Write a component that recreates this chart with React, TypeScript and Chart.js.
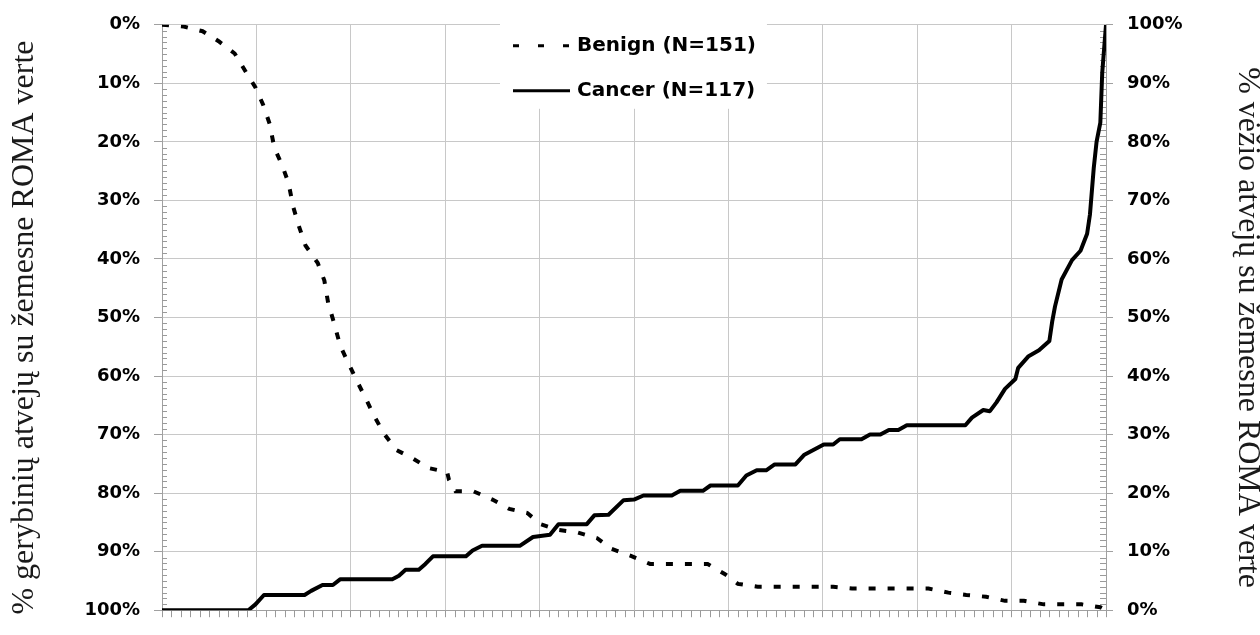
import React, { useEffect, useRef } from 'react';
import { Chart, registerables } from 'chart.js';

Chart.register(...registerables);

// Benign: cumulative % (left axis, reversed 0% at top)
const benignX = [0, 2.3, 4.3, 6.0, 7.7, 8.9, 9.9, 10.7, 11.4, 11.9, 12.7, 13.4, 13.9, 14.5, 15.2, 16.5, 17.2, 17.6, 18.2, 18.9, 19.8, 20.7, 21.6, 22.5, 23.5, 24.8, 26.6, 28.2, 30.2, 30.4, 31.1, 33.0, 35.0, 36.8, 38.7, 40.1, 42.0, 44.0, 46.1, 47.6, 49.8, 51.7, 57.8, 59.6, 61.0, 63.1, 67.1, 71.1, 73.1, 81.2, 83.3, 85.2, 87.3, 89.3, 91.3, 93.4, 97.4, 99.4, 100];
const benignY = [0, 0.3, 1.1, 2.8, 4.9, 8.1, 10.7, 13.6, 16.9, 21.0, 23.9, 27.0, 31.1, 34.4, 37.7, 40.7, 43.7, 47.5, 50.8, 54.9, 58.0, 61.0, 63.9, 66.9, 69.8, 72.6, 74.1, 75.7, 76.4, 77.7, 79.7, 79.7, 81.1, 82.7, 83.4, 85.3, 86.3, 86.7, 87.7, 89.5, 90.8, 92.1, 92.1, 93.8, 95.5, 96.0, 96.0, 96.0, 96.3, 96.3, 97.0, 97.4, 97.7, 98.4, 98.4, 99.0, 99.0, 99.5, 100];

// Cancer: cumulative % (right axis)
const cancerX = [0, 9.15, 9.9, 10.8, 15.1, 15.8, 17.0, 18.1, 18.9, 24.4, 25.1, 25.8, 27.2, 27.9, 28.7, 32.2, 32.9, 33.9, 37.9, 39.3, 41.1, 42.0, 45.0, 45.8, 47.3, 48.9, 50.0, 51.0, 54.0, 54.9, 57.3, 58.1, 61.0, 61.9, 63.0, 64.0, 64.9, 67.1, 68.0, 69.4, 70.1, 71.1, 71.8, 74.1, 75.0, 76.1, 77.0, 78.0, 78.9, 85.1, 85.8, 87.0, 87.7, 88.4, 89.3, 90.4, 90.7, 91.8, 92.9, 94.0, 94.3, 94.6, 95.3, 96.4, 97.3, 98.0, 98.3, 98.7, 99.0, 99.4, 99.6, 100];
const cancerY = [0, 0, 1.0, 2.6, 2.6, 3.3, 4.3, 4.3, 5.3, 5.3, 5.9, 6.9, 6.9, 7.9, 9.2, 9.2, 10.2, 11.0, 11.0, 12.5, 12.9, 14.7, 14.7, 16.2, 16.3, 18.8, 18.9, 19.6, 19.6, 20.4, 20.4, 21.3, 21.3, 23.0, 23.9, 23.9, 24.9, 24.9, 26.5, 27.7, 28.3, 28.3, 29.2, 29.2, 30.0, 30.0, 30.8, 30.8, 31.6, 31.6, 32.9, 34.2, 34.0, 35.5, 37.8, 39.5, 41.4, 43.4, 44.4, 46.0, 49.3, 51.9, 56.5, 59.8, 61.4, 64.3, 67.6, 75.5, 80.0, 83.3, 91.8, 100];

const benignLabel = 'Benign (N=151)';
const cancerLabel = 'Cancer (N=117)';
const leftTitle = '% gerybinių atvejų su žemesne ROMA verte';
const rightTitle = '% vėžio atvejų su žemesne ROMA verte';
const axisMin = 0;
const axisMax = 100;
const majorStep = 10;
const minorStep = 1;

const GRID = '#c8c8c8';
const AXIS = '#a0a0a0';
const MINOR = '#9a9a9a';
const TICK_FONT = { family: "'DejaVu Sans', sans-serif", size: 18, weight: 'bold' as const };
const TITLE_FONT = "32px 'Liberation Serif', serif";

const minorTicksPlugin = {
  id: 'minorTicks',
  beforeDatasetsDraw(chart: any) {
    const { ctx, chartArea, scales } = chart;
    ctx.save();
    ctx.strokeStyle = MINOR;
    ctx.lineWidth = 1;
    ctx.beginPath();
    for (let v = axisMin; v <= axisMax; v += minorStep) {
      if (v % majorStep === 0) continue;
      const yl = Math.round(scales.y.getPixelForValue(v)) + 0.5;
      ctx.moveTo(chartArea.left, yl);
      ctx.lineTo(chartArea.left + 5, yl);
      const yr = Math.round(scales.y1.getPixelForValue(v)) + 0.5;
      ctx.moveTo(chartArea.right - 6, yr);
      ctx.lineTo(chartArea.right, yr);
      const xb = Math.round(scales.x.getPixelForValue(v)) + 0.5;
      ctx.moveTo(xb, chartArea.bottom);
      ctx.lineTo(xb, chartArea.bottom + 7);
    }
    ctx.stroke();
    ctx.restore();
  },
};

const axisTitlesPlugin = {
  id: 'axisTitles',
  afterDraw(chart: any) {
    const { ctx, chartArea, width } = chart;
    const cy = (chartArea.top + chartArea.bottom) / 2 + 10;
    ctx.save();
    ctx.font = TITLE_FONT;
    ctx.fillStyle = '#1a1a1a';
    ctx.textAlign = 'center';
    ctx.textBaseline = 'middle';
    ctx.save();
    ctx.translate(25, cy);
    ctx.rotate(-Math.PI / 2);
    ctx.fillText(leftTitle, 0, 0);
    ctx.restore();
    ctx.save();
    ctx.translate(width - 13, cy);
    ctx.rotate(Math.PI / 2);
    ctx.fillText(rightTitle, 0, 0);
    ctx.restore();
    ctx.restore();
  },
};

const legendDashes = [[6, 19], []];

const boxLegendPlugin = {
  id: 'boxLegend',
  afterDraw(chart: any) {
    const { ctx, chartArea } = chart;
    const ds = chart.data.datasets;
    ctx.save();
    ctx.font = "bold 20px 'DejaVu Sans', sans-serif";
    const sampleLen = 57;
    const gap = 7;
    const maxW = Math.max(...ds.map((d: any) => ctx.measureText(d.label).width));
    const total = sampleLen + gap + maxW;
    const cx = (chartArea.left + chartArea.right) / 2;
    const x0 = Math.round(cx - total / 2);
    const rows = [chartArea.top + 21, chartArea.top + 66];
    ctx.fillStyle = '#ffffff';
    ctx.fillRect(x0 - 13, chartArea.top - 19, total + 24, 103);
    ds.forEach((d: any, i: number) => {
      ctx.beginPath();
      ctx.setLineDash(legendDashes[i] || []);
      ctx.lineWidth = 3;
      ctx.lineCap = 'butt';
      ctx.strokeStyle = d.borderColor;
      ctx.moveTo(x0, rows[i]);
      ctx.lineTo(x0 + sampleLen, rows[i]);
      ctx.stroke();
      ctx.setLineDash([]);
      ctx.fillStyle = '#000';
      ctx.textAlign = 'left';
      ctx.textBaseline = 'middle';
      ctx.fillText(d.label, x0 + sampleLen + gap, rows[i]);
    });
    ctx.restore();
  },
};

export default function App() {
  const ref = useRef<HTMLCanvasElement | null>(null);

  useEffect(() => {
    if (!ref.current) return;
    const benign = benignX.map((x, i) => ({ x, y: benignY[i] }));
    const cancer = cancerX.map((x, i) => ({ x, y: cancerY[i] }));
    const chart = new Chart(ref.current, {
      type: 'line',
      data: {
        datasets: [
          {
            label: benignLabel,
            data: benign,
            yAxisID: 'y',
            borderColor: '#000',
            borderWidth: 4,
            borderDash: [7, 12],
            borderCapStyle: 'butt',
            pointRadius: 0,
            tension: 0,
            fill: false,
          },
          {
            label: cancerLabel,
            data: cancer,
            yAxisID: 'y1',
            borderColor: '#000',
            borderWidth: 4,
            borderJoinStyle: 'round',
            pointRadius: 0,
            tension: 0,
            fill: false,
          },
        ],
      },
      options: {
        responsive: false,
        animation: false,
        layout: { padding: { top: 24, left: 0, right: 0, bottom: 0 } },
        plugins: { legend: { display: false }, tooltip: { enabled: false } },
        scales: {
          x: {
            type: 'linear',
            min: axisMin,
            max: axisMax,
            ticks: { stepSize: majorStep, display: false },
            grid: { color: GRID, tickLength: 7, tickColor: MINOR },
            border: { color: AXIS },
            afterFit: (s: any) => { s.height = 12; },
          },
          y: {
            position: 'left',
            reverse: true,
            min: axisMin,
            max: axisMax,
            ticks: { stepSize: majorStep, callback: (v: any) => v + '%', color: '#000', font: TICK_FONT, padding: 14 },
            grid: { color: GRID, tickLength: 8, tickColor: AXIS },
            border: { color: AXIS },
            afterFit: (s: any) => { s.width = 162; },
          },
          y1: {
            position: 'right',
            min: axisMin,
            max: axisMax,
            ticks: { stepSize: majorStep, callback: (v: any) => v + '%', color: '#000', font: TICK_FONT, padding: 14 },
            grid: { drawOnChartArea: false, tickLength: 7, color: AXIS },
            border: { color: AXIS },
            afterFit: (s: any) => { s.width = 154; },
          },
        },
      },
      plugins: [minorTicksPlugin, axisTitlesPlugin, boxLegendPlugin],
    } as any);
    return () => chart.destroy();
  }, []);

  return (
    <div style={{ position: 'fixed', left: 0, top: 0, width: 1260, height: 635, background: '#fff' }}>
      <canvas ref={ref} width={1260} height={635} style={{ display: 'block' }} />
    </div>
  );
}
